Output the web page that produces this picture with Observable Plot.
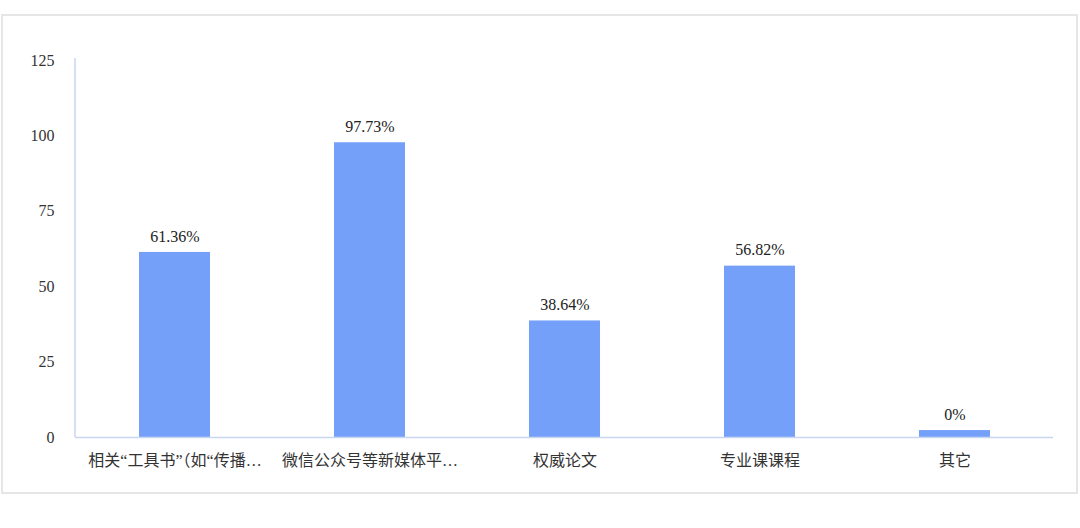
<!DOCTYPE html>
<html>
<head>
<meta charset="utf-8">
<script src="https://cdn.jsdelivr.net/npm/d3@7"></script>
<script src="https://cdn.jsdelivr.net/npm/@observablehq/plot@0.6"></script>
<style>
  html, body { margin: 0; padding: 0; background: #fff; }
  #wrap { position: relative; width: 1080px; height: 528px; overflow: hidden; }
  #border { position: absolute; left: 1px; top: 14px; width: 1077px; height: 480px; box-sizing: border-box; border: 2px solid #e6e6e6; }
  #chart { position: absolute; left: 0; top: 0; }
  #chart svg, #chart svg text { font-family: "Liberation Serif", "Noto Sans CJK SC", serif !important; }
</style>
</head>
<body>
<div id="wrap"><div id="border"></div><div id="chart"></div></div>
<script>
const categories = ["相关“工具书”（如“传播…", "微信公众号等新媒体平…", "权威论文", "专业课课程", "其它"];
const values = [61.36, 97.73, 38.64, 56.82, 0];
const valueLabels = ["61.36%", "97.73%", "38.64%", "56.82%", "0%"];
const yTicks = [0, 25, 50, 75, 100, 125];
const minBar = 2.3; // visible stub drawn for a zero bar, as in the original
const axisColor = "#c9d6f0";

const data = categories.map((c, i) => ({cat: c, value: values[i], label: valueLabels[i]}));

// vertical y-axis line along the left edge of the frame
function yAxisLine(index, scales, values, dimensions) {
  const g = d3.create("svg:g");
  const [y0, y1] = scales.y.range ? [scales.y(0), scales.y(yTicks[yTicks.length - 1])] : [0, 0];
  g.append("line")
    .attr("x1", dimensions.marginLeft).attr("x2", dimensions.marginLeft)
    .attr("y1", y0).attr("y2", y1 - 2)
    .attr("stroke", axisColor).attr("stroke-width", 1.5);
  return g.node();
}

const plot = Plot.plot({
  width: 1080,
  height: 528,
  marginLeft: 75,
  marginRight: 27,
  marginTop: 60,
  marginBottom: 91,
  style: {fontSize: "16px", color: "#333", background: "transparent"},
  x: {domain: categories, paddingInner: 0.637, paddingOuter: 0.3185, label: null},
  y: {domain: [0, 125], label: null},
  marks: [
    Plot.axisY({ticks: yTicks, tickSize: 0, tickPadding: 21, fontSize: 16, fill: "#333", label: null}),
    Plot.axisX({tickSize: 0, tickPadding: 17, fontSize: 16, fill: "#333", label: null}),
    Plot.barY(data, {x: "cat", y: d => d.value || minBar, fill: "#74a0fa"}),
    Plot.ruleY([0], {stroke: axisColor, strokeWidth: 1.5}),
    yAxisLine,
    Plot.text(data, {x: "cat", y: d => d.value || minBar, text: "label", dy: -16, fontSize: 16, fill: "#222", lineAnchor: "middle"})
  ]
});
document.getElementById("chart").appendChild(plot);
</script>
</body>
</html>
